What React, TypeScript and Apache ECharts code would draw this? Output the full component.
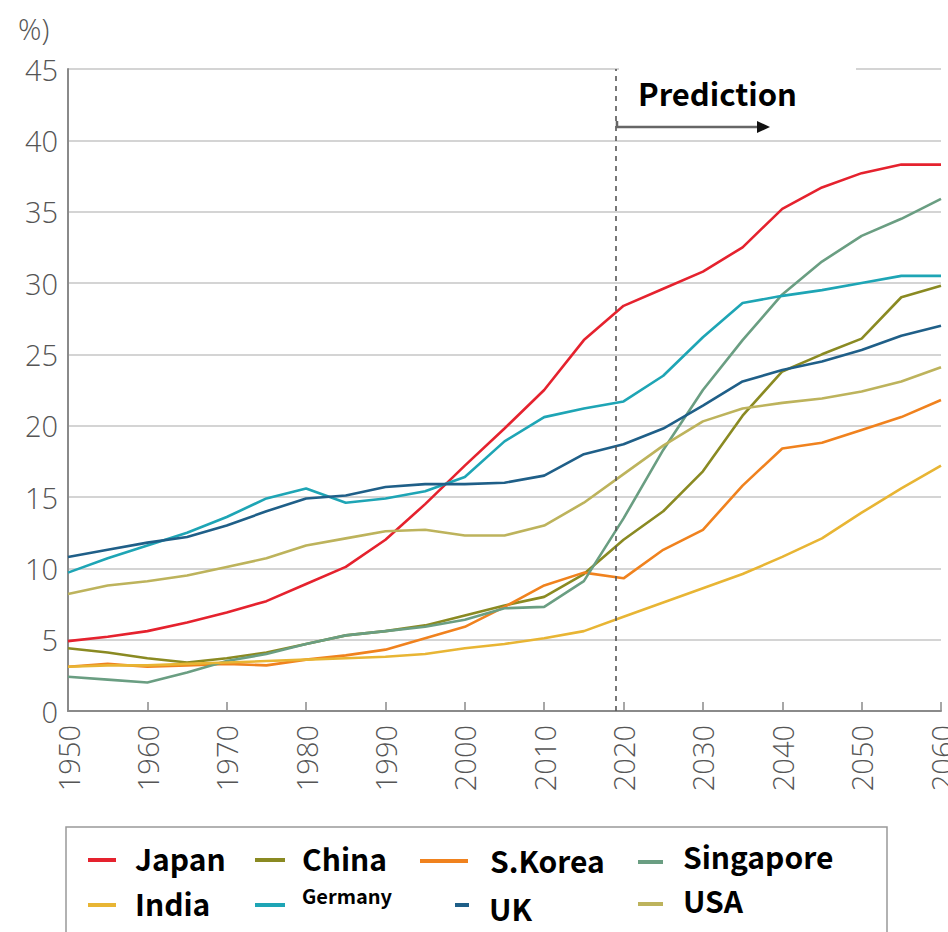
import React, { useEffect, useRef } from "react";
import * as echarts from "echarts";

const years = [1950, 1955, 1960, 1965, 1970, 1975, 1980, 1985, 1990, 1995, 2000, 2005, 2010, 2015, 2020, 2025, 2030, 2035, 2040, 2045, 2050, 2055, 2060];

const japan = [4.9, 5.2, 5.6, 6.2, 6.9, 7.7, 8.9, 10.1, 12.0, 14.5, 17.2, 19.8, 22.5, 26.0, 28.4, 29.6, 30.8, 32.5, 35.2, 36.7, 37.7, 38.3, 38.3];
const china = [4.4, 4.1, 3.7, 3.4, 3.7, 4.1, 4.7, 5.3, 5.6, 6.0, 6.7, 7.4, 8.0, 9.6, 12.0, 14.0, 16.8, 20.7, 23.8, 25.0, 26.1, 29.0, 29.8];
const skorea = [3.1, 3.3, 3.1, 3.2, 3.3, 3.2, 3.6, 3.9, 4.3, 5.1, 5.9, 7.3, 8.8, 9.7, 9.3, 11.3, 12.7, 15.8, 18.4, 18.8, 19.7, 20.6, 21.8];
const singapore = [2.4, 2.2, 2.0, 2.7, 3.5, 4.0, 4.7, 5.3, 5.6, 5.9, 6.4, 7.2, 7.3, 9.1, 13.5, 18.3, 22.5, 26.0, 29.2, 31.5, 33.3, 34.5, 35.9];
const india = [3.1, 3.2, 3.2, 3.3, 3.4, 3.5, 3.6, 3.7, 3.8, 4.0, 4.4, 4.7, 5.1, 5.6, 6.6, 7.6, 8.6, 9.6, 10.8, 12.1, 13.9, 15.6, 17.2];
const germany = [9.7, 10.7, 11.6, 12.5, 13.6, 14.9, 15.6, 14.6, 14.9, 15.4, 16.4, 18.9, 20.6, 21.2, 21.7, 23.5, 26.2, 28.6, 29.1, 29.5, 30.0, 30.5, 30.5];
const uk = [10.8, 11.3, 11.8, 12.2, 13.0, 14.0, 14.9, 15.1, 15.7, 15.9, 15.9, 16.0, 16.5, 18.0, 18.7, 19.8, 21.4, 23.1, 23.9, 24.5, 25.3, 26.3, 27.0];
const usa = [8.2, 8.8, 9.1, 9.5, 10.1, 10.7, 11.6, 12.1, 12.6, 12.7, 12.3, 12.3, 13.0, 14.6, 16.6, 18.6, 20.3, 21.2, 21.6, 21.9, 22.4, 23.1, 24.1];

const seriesNames = ["Japan", "China", "S.Korea", "Singapore", "India", "Germany", "UK", "USA"];
const seriesValues = [japan, china, skorea, singapore, india, germany, uk, usa];
const seriesColors = ["#e5222e", "#8a8a22", "#f0821e", "#6a9e82", "#e8b534", "#1ea5b5", "#1f5f88", "#bdb35c"];

const predictionStartYear = 2019;
const predictionLabel = "Prediction";
const yUnitLabel = "%)";

// legend layout (x of marker, marker length, x of text, y of marker, y of text, font size)
const legendLayout = [
  { mx: 88, mw: 28, tx: 135, my: 860, ty: 858, fs: 30 },
  { mx: 255, mw: 30, tx: 302, my: 860, ty: 858, fs: 30 },
  { mx: 420, mw: 48, tx: 490, my: 861, ty: 860, fs: 30 },
  { mx: 638, mw: 25, tx: 683, my: 862, ty: 856, fs: 30 },
  { mx: 88, mw: 28, tx: 135, my: 905, ty: 903, fs: 30 },
  { mx: 255, mw: 30, tx: 302, my: 905, ty: 895, fs: 20 },
  { mx: 455, mw: 14, tx: 489, my: 905, ty: 908, fs: 30 },
  { mx: 638, mw: 25, tx: 683, my: 904, ty: 900, fs: 30 },
];

const legendFont = "'Noto Sans CJK JP', 'Noto Sans', sans-serif";
const axisFont = "'Open Sans', 'Noto Sans', sans-serif";

export default function App() {
  const ref = useRef<HTMLDivElement>(null);
  useEffect(() => {
    if (!ref.current) return;
    const chart = echarts.init(ref.current, null, { renderer: "svg" });

    const series: any[] = seriesNames.map((name, i) => ({
      name,
      type: "line",
      showSymbol: false,
      symbol: "none",
      data: years.map((y, j) => [y, seriesValues[i][j]]),
      lineStyle: { color: seriesColors[i], width: 2.6 },
      itemStyle: { color: seriesColors[i] },
      z: 3,
    }));
    series[0].markLine = {
      silent: true,
      symbol: "none",
      label: { show: false },
      lineStyle: { color: "#555", type: [5, 5], width: 1.6 },
      data: [{ xAxis: predictionStartYear }],
    };

    const legendGraphics: any[] = [];
    seriesNames.forEach((name, i) => {
      const l = legendLayout[i];
      legendGraphics.push({
        type: "line",
        shape: { x1: l.mx, y1: l.my, x2: l.mx + l.mw, y2: l.my },
        style: { stroke: seriesColors[i], lineWidth: 4 },
        z: 100,
      });
      legendGraphics.push({
        type: "text",
        x: l.tx,
        y: l.ty,
        style: {
          text: name,
          fill: "#000",
          font: `bold ${l.fs}px ${legendFont}`,
          verticalAlign: "middle",
        },
        z: 100,
      });
    });

    chart.setOption({
      animation: false,
      backgroundColor: "#fff",
      grid: { left: 68, right: 7, top: 69, bottom: 221, containLabel: false, outerBoundsMode: "none" },
      xAxis: {
        type: "value",
        min: 1950,
        max: 2060,
        interval: 10,
        axisLine: { show: true, lineStyle: { color: "#8a8a8a", width: 2 } },
        axisTick: { show: true, inside: true, length: 9, lineStyle: { color: "#8a8a8a", width: 1.5 } },
        axisLabel: {
          rotate: 90,
          margin: 14,
          fontSize: 29,
          color: "#555",
          fontFamily: axisFont,
          fontWeight: 300,
          hideOverlap: false,
          formatter: (v: number) => String(v),
        },
        splitLine: { show: false },
      },
      yAxis: {
        type: "value",
        min: 0,
        max: 45,
        interval: 5,
        axisLine: { show: true, lineStyle: { color: "#8a8a8a", width: 2 } },
        axisTick: { show: false },
        axisLabel: {
          margin: 10,
          fontSize: 29,
          color: "#555",
          fontFamily: axisFont,
          fontWeight: 300,
        },
        splitLine: { show: true, lineStyle: { color: "#d4d4d4", width: 2 } },
      },
      series,
      graphic: [
        {
          type: "text",
          x: 18,
          y: 28,
          style: {
            text: yUnitLabel,
            fill: "#555",
            font: `300 29px ${axisFont}`,
            verticalAlign: "middle",
          },
        },
        {
          type: "rect",
          shape: { x: 619, y: 60, width: 237, height: 24 },
          style: { fill: "#fff" },
          z: 50,
        },
        {
          type: "text",
          x: 638,
          y: 92,
          style: {
            text: predictionLabel,
            fill: "#000",
            font: `bold 31px ${legendFont}`,
            verticalAlign: "middle",
          },
          z: 60,
        },
        {
          type: "polyline",
          shape: { points: [[617, 121], [617, 127], [760, 127]] },
          style: { stroke: "#666", lineWidth: 2.5, fill: null },
          z: 60,
        },
        {
          type: "polygon",
          shape: { points: [[757, 121], [770, 127], [757, 133]] },
          style: { fill: "#111" },
          z: 60,
        },
        {
          type: "rect",
          shape: { x: 66, y: 827, width: 821, height: 130 },
          style: { fill: "none", stroke: "#999", lineWidth: 1.5 },
          z: 90,
        },
        ...legendGraphics,
      ],
    });
    return () => chart.dispose();
  }, []);

  return <div ref={ref} style={{ width: 948, height: 932, position: "absolute", left: 0, top: 0 }} />;
}
